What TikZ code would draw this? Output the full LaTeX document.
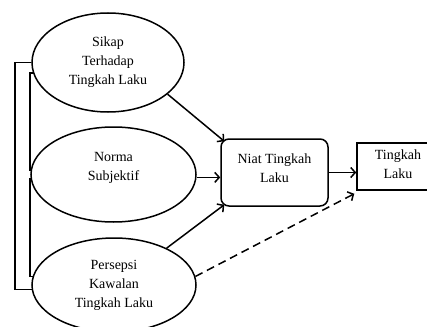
\documentclass[tikz,border=0pt]{standalone}
\usepackage{fontspec}
\setmainfont{Liberation Serif}
\usetikzlibrary{shapes.geometric,arrows.meta,calc}
\begin{document}
\begin{tikzpicture}[x=1pt,y=-1pt,
  oval/.style={draw,ellipse,line width=1.5pt,inner sep=0pt},
  lbl/.style={align=center,font=\fontsize{14}{19}\selectfont,inner sep=0pt},
  arr/.style={line width=1.5pt,-{Straight Barb[length=4.5pt,width=10pt]}},
  link/.style={line width=1.5pt}]
\useasboundingbox (0,0) rectangle (427,326);
% ellipses
\node[oval,minimum width=152pt,minimum height=99pt] (s) at (108,62.5) {};
\node[oval,minimum width=165pt,minimum height=95pt] (m) at (113.5,174.5) {};
\node[oval,minimum width=164pt,minimum height=94pt] (p) at (114,285) {};
\node[lbl] (stx) at (108,62) {Sikap\\Terhadap\\Tingkah Laku};
\node[lbl] (mtx) at (113.5,168) {Norma\\Subjektif};
\node[lbl] (ptx) at (114,285) {Persepsi\\Kawalan\\Tingkah Laku};
% boxes
\node[draw,line width=1.5pt,rounded corners=8pt,minimum width=107pt,minimum height=67pt,inner sep=0pt] (n) at (274.5,172.5) {};
\node[lbl] (ntx) at (274.5,168) {Niat Tingkah\\Laku};
\node[draw,line width=1.5pt,minimum width=82pt,minimum height=47pt,inner sep=0pt] (t) at (398,166.5) {};
\node[lbl] (ttx) at (398,164) {Tingkah\\Laku};
% bracket coordinates
\coordinate (ix) at (30,0);
\coordinate (ox) at (15,0);
\draw[link] (s.west) -- (s.west -| ox) |- (p.183);
\draw[link] (s.188) -- (s.188 -| ix) |- (m.177);
\draw[link] (m.183) -- (m.183 -| ix) |- (p.174);
% arrows
\draw[arr] (s.-28) -- ([shift={(4,3)}]n.north west);
\draw[arr] (m.-2) -- (m.-2 -| n.west);
\draw[arr] (p.35) -- ([shift={(4,-2)}]n.south west);
\draw[arr] (n.east) -- (n.east -| t.west);
\draw[arr,dash pattern=on 8pt off 5pt] (p.6) -- ([shift={(-2,3)}]t.south west);
\end{tikzpicture}
\end{document}
